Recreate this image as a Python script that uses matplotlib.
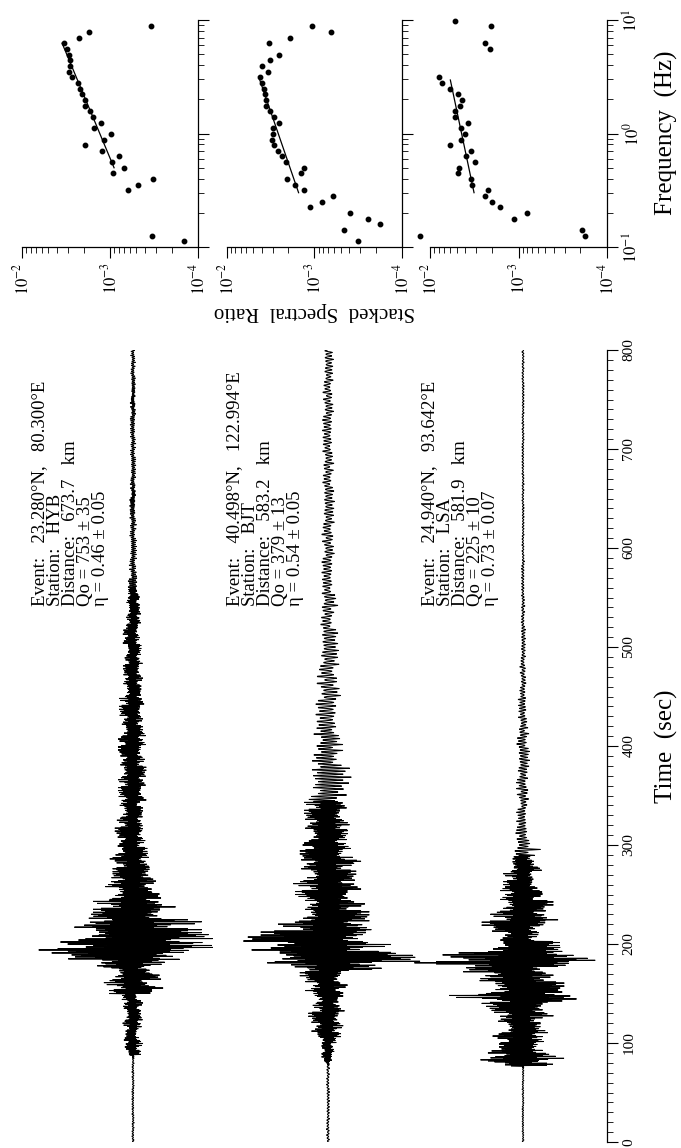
import numpy as np
import matplotlib
matplotlib.use('Agg')
import matplotlib.pyplot as plt
from matplotlib.ticker import LogLocator, NullFormatter, FixedLocator, FixedFormatter, MultipleLocator

plt.rcParams['font.family'] = ['Liberation Serif', 'DejaVu Serif']
plt.rcParams['mathtext.fontset'] = 'stix'

# ---------------- data: spectral ratios ----------------
hyb_freq = [8.80, 7.84, 6.99, 6.24, 5.56, 4.96, 4.42, 3.94, 3.51, 3.13, 2.79, 2.49, 2.22, 1.98, 1.76,
            1.57, 1.40, 1.25, 1.11, 0.993, 0.885, 0.789, 0.704, 0.628, 0.560, 0.499, 0.445, 0.397,
            0.353, 0.315, 0.126, 0.112]
hyb_ratio = [3.38e-4, 1.75e-3, 2.28e-3, 3.32e-3, 3.09e-3, 2.96e-3, 2.86e-3, 2.88e-3, 2.96e-3, 2.71e-3,
             2.32e-3, 2.22e-3, 2.10e-3, 1.93e-3, 1.90e-3, 1.69e-3, 1.58e-3, 1.25e-3, 1.52e-3, 9.75e-4,
             1.16e-3, 1.90e-3, 1.23e-3, 7.83e-4, 9.48e-4, 6.98e-4, 9.25e-4, 3.24e-4, 4.75e-4, 6.24e-4,
             3.32e-4, 1.43e-4]
hyb_fit_freq = [6.24, 0.499]
hyb_fit_ratio = [3.50e-3, 8.99e-4]

bjt_freq = [8.80, 7.84, 6.99, 6.24, 4.96, 4.42, 3.94, 3.51, 3.13, 2.79, 2.49, 2.22, 1.98, 1.76, 1.57,
            1.40, 1.25, 1.11, 0.993, 0.885, 0.789, 0.704, 0.628, 0.560, 0.499, 0.445, 0.397, 0.353,
            0.315, 0.281, 0.251, 0.223, 0.199, 0.178, 0.158, 0.141, 0.112]
bjt_ratio = [1.06e-3, 6.48e-4, 1.89e-3, 3.34e-3, 2.52e-3, 3.20e-3, 3.98e-3, 3.40e-3, 4.24e-3, 4.02e-3,
             3.78e-3, 3.71e-3, 3.55e-3, 3.55e-3, 3.23e-3, 2.93e-3, 2.52e-3, 2.95e-3, 3.01e-3, 3.03e-3,
             2.90e-3, 2.59e-3, 2.33e-3, 2.12e-3, 1.31e-3, 1.44e-3, 2.08e-3, 1.69e-3, 1.32e-3, 6.19e-4,
             8.13e-4, 1.12e-3, 3.96e-4, 2.43e-4, 1.77e-4, 4.64e-4, 3.15e-4]
bjt_fit_freq = [3.17, 0.301]
bjt_fit_ratio = [4.35e-3, 1.52e-3]

lsa_freq = [9.87, 8.80, 6.24, 5.56, 3.13, 2.79, 2.49, 2.22, 1.98, 1.76, 1.57, 1.40, 1.25, 1.11, 0.993,
            0.885, 0.789, 0.704, 0.628, 0.560, 0.499, 0.445, 0.397, 0.353, 0.315, 0.281, 0.251, 0.223,
            0.199, 0.178, 0.141, 0.126, 0.126]
lsa_ratio = [5.26e-3, 2.04e-3, 2.38e-3, 2.11e-3, 7.84e-3, 7.31e-3, 5.94e-3, 4.86e-3, 4.31e-3, 4.62e-3,
             5.26e-3, 5.26e-3, 3.68e-3, 4.46e-3, 4.06e-3, 4.50e-3, 5.98e-3, 3.47e-3, 3.94e-3, 3.12e-3,
             4.66e-3, 4.78e-3, 3.43e-3, 3.38e-3, 2.24e-3, 2.36e-3, 2.00e-3, 1.61e-3, 7.98e-4, 1.13e-3,
             1.92e-4, 1.76e-4, 1.30e-2]
lsa_fit_freq = [2.96, 0.301]
lsa_fit_ratio = [5.89e-3, 3.18e-3]

# ---------------- data: seismogram envelopes (time s, lower / upper peak amplitude) ----------------
hyb_t = [0, 88, 96, 106, 116, 127, 136, 143, 150, 157, 164, 170, 177, 184, 191, 194, 198, 204, 211, 218,
         225, 232, 238, 245, 252, 258, 265, 272, 278, 285, 292, 298, 305, 312, 318, 325, 332, 339, 344,
         362, 379, 393, 414, 431, 449, 466, 484, 504, 518, 536, 553, 570, 600, 650, 700, 750]
hyb_lo = [1.3, 7.4, 9.6, 7.4, 10.4, 9.6, 11.7, 11.7, 23.9, 29.1, 29.1, 22.6, 42.1, 68.2, 81.3, 94.3, 72.6,
          68.2, 61.7, 57.4, 46.5, 40.0, 40.0, 29.1, 22.6, 29.1, 22.6, 20.4, 18.2, 29.1, 18.2, 16.1, 16.1,
          18.2, 15.2, 16.1, 13.9, 13.9, 15.0, 15.0, 13.3, 15.0, 11.7, 14.0, 10.0, 10.0, 8.3, 10.7, 6.7,
          6.7, 5.0, 4.0, 3.5, 3.0, 3.0, 2.5]
hyb_hi = [1.3, 7.8, 10.0, 5.6, 10.0, 7.8, 10.0, 5.6, 31.7, 18.7, 29.5, 16.5, 31.7, 66.5, 92.5, 83.9, 92.5,
          83.9, 68.7, 68.7, 40.4, 44.8, 33.9, 29.5, 18.7, 23.0, 25.2, 27.4, 16.5, 16.5, 14.3, 12.2, 12.2,
          16.5, 10.0, 10.0, 10.0, 7.8, 13.3, 13.3, 11.7, 13.3, 10.0, 11.7, 8.3, 10.0, 8.3, 6.7, 8.3,
          6.7, 6.7, 4.0, 3.5, 3.0, 3.0, 2.5]

bjt_t = [0, 81, 86, 100, 106, 113, 120, 127, 133, 140, 147, 154, 160, 167, 174, 181, 188, 191, 196, 201,
         208, 214, 221, 228, 234, 241, 248, 255, 261, 268, 275, 282, 288, 295, 302, 315, 322, 351, 362,
         369, 379, 396, 414, 466, 501, 518, 536, 553, 650, 750]
bjt_lo = [1.7, 4.3, 6.5, 8.7, 17.4, 15.2, 17.4, 19.6, 15.2, 15.2, 23.9, 19.6, 23.9, 28.2, 36.9, 76.0,
          76.0, 80.4, 67.3, 89.1, 67.3, 50.0, 41.3, 28.2, 23.9, 23.9, 32.6, 32.6, 34.8, 23.9, 28.2, 28.2,
          28.2, 28.2, 23.9, 23.9, 23.9, 25.0, 28.3, 26.7, 16.7, 15.0, 13.3, 11.7, 10.0, 8.3, 8.3, 6.7,
          6.0, 5.5]
bjt_hi = [1.7, 6.5, 6.5, 8.7, 13.0, 15.2, 15.2, 17.4, 15.2, 10.9, 15.2, 19.6, 15.2, 21.7, 63.0, 96.9,
          84.7, 63.0, 63.0, 50.0, 63.0, 45.6, 43.5, 41.3, 36.9, 32.6, 32.6, 34.8, 28.2, 28.2, 26.1, 41.3,
          23.9, 23.9, 19.6, 23.9, 19.6, 18.3, 23.3, 21.7, 16.7, 15.0, 13.3, 11.7, 10.0, 6.7, 10.0, 6.7,
          6.0, 5.5]

lsa_t = [0, 77, 82, 86, 93, 100, 106, 113, 120, 127, 133, 140, 144, 150, 164, 170, 177, 180, 187, 192,
         197, 204, 211, 218, 225, 232, 238, 245, 252, 258, 265, 272, 278, 285, 292, 298, 305, 312, 318,
         325, 339, 344, 362, 379, 414, 449, 484, 520, 550, 588]
lsa_lo = [1.0, 30.0, 50.0, 36.9, 23.9, 28.2, 30.4, 23.9, 26.1, 30.4, 36.9, 41.3, 73.9, 45.6, 50.0, 63.0,
          47.8, 108.6, 80.4, 50.0, 32.6, 23.9, 32.6, 41.3, 32.6, 32.6, 23.9, 23.9, 23.9, 19.6, 19.6,
          15.2, 17.4, 10.9, 10.9, 10.9, 6.5, 8.7, 6.5, 6.5, 4.3, 6.7, 8.3, 6.7, 5.0, 3.3, 2.7, 2.0,
          1.7, 1.2]
lsa_hi = [1.0, 30.0, 45.6, 32.6, 23.9, 21.7, 26.1, 17.4, 21.7, 30.4, 32.6, 41.3, 63.0, 41.3, 30.4, 28.2,
          77.3, 76.0, 67.3, 41.3, 36.9, 15.2, 19.6, 36.9, 28.2, 23.9, 30.4, 19.6, 23.9, 15.2, 10.9,
          19.6, 10.9, 13.0, 17.4, 8.7, 8.7, 6.5, 6.5, 4.3, 4.3, 6.7, 5.0, 6.7, 5.0, 3.3, 2.7, 2.0,
          1.7, 1.2]

stations = ['HYB', 'BJT', 'LSA']
time_ticks = [0, 100, 200, 300, 400, 500, 600, 700, 800]
ratio_ticks = [1e-2, 1e-3, 1e-4]
ratio_labels = [r'$10^{-2}$', r'$10^{-3}$', r'$10^{-4}$']
freq_ticks = [0.1, 1.0, 10.0]
freq_labels = [r'$10^{-1}$', r'$10^{0}$', r'$10^{1}$']
info = [
    ['Event:   23.280°N,   80.300°E', 'Station:   HYB', 'Distance:   673.7   km', 'Qo = 753 ± 35', 'η = 0.46 ± 0.05'],
    ['Event:   40.498°N,   122.994°E', 'Station:   BJT', 'Distance:   583.2   km', 'Qo = 379 ± 13', 'η = 0.54 ± 0.05'],
    ['Event:   24.940°N,   93.642°E', 'Station:   LSA', 'Distance:   581.9   km', 'Qo = 225 ± 10', 'η = 0.73 ± 0.07'],
]

# ---------------- layout ----------------
W, H = 681, 1148
fig = plt.figure(figsize=(W / 100, H / 100), dpi=100)


def add_px_axes(x0, y0, x1, y1):
    return fig.add_axes([x0 / W, 1 - y1 / H, (x1 - x0) / W, (y1 - y0) / H])


# ---------------- seismograms ----------------
ax = add_px_axes(0, 350, 607, 1142)
ax.set_xlim(0, 607)
ax.set_ylim(0, 800)
for s in ['top', 'left', 'bottom']:
    ax.spines[s].set_visible(False)
ax.spines['right'].set_linewidth(0.9)
ax.set_xticks([])
ax.yaxis.tick_right()
ax.yaxis.set_major_locator(FixedLocator(time_ticks))
ax.yaxis.set_minor_locator(MultipleLocator(10))
ax.tick_params(axis='y', which='major', direction='out', length=8, width=0.8, labelsize=11,
               labelrotation=90, pad=3)
ax.tick_params(axis='y', which='minor', direction='out', length=4, width=0.6)
for lab in ax.get_yticklabels():
    lab.set_verticalalignment('center')

offsets = [133, 328, 523]
periods = [  # (start time, carrier period in s) style of each trace
    [(0, 2.5), (85, 1.0), (560, 2.0)],
    [(0, 3.0), (78, 1.0), (345, 3.0), (420, 3.5)],
    [(0, 2.5), (75, 1.0), (290, 3.0)],
]
weights = np.array([1.0, 0.45, 0.8, 0.6, 0.3, 0.95, 0.5, 0.7, 0.35, 0.85, 0.55, 0.4, 0.9, 0.65, 0.3,
                    0.75, 1.0, 0.5, 0.6, 0.35, 0.8, 0.45, 0.7, 0.95, 0.4, 0.55, 0.3, 0.85, 0.6, 0.75,
                    0.5, 0.9, 0.35, 0.65, 0.45, 1.0, 0.55, 0.7, 0.4, 0.8, 0.6])
env = [(hyb_t, hyb_lo, hyb_hi), (bjt_t, bjt_lo, bjt_hi), (lsa_t, lsa_lo, lsa_hi)]
t = np.arange(0, 800.01, 0.5)
for k in range(3):
    tt, lo, hi = [np.asarray(v, float) for v in env[k]]
    idx = np.clip(np.searchsorted(tt, t, side='right') - 1, 0, len(tt) - 1)
    per = np.ones_like(t)
    for (ts, p) in periods[k]:
        per[t >= ts] = p
    phase = np.cumsum(2 * np.pi * 0.5 / per)
    c = np.cos(phase)
    half = np.floor(phase / np.pi + 0.5).astype(int)
    w = weights[(half + 7 * k) % len(weights)]
    amp = np.where(c >= 0, c * hi[idx], c * lo[idx]) * w
    ax.plot(offsets[k] + amp, t, color='k', lw=0.75, solid_joinstyle='miter')

    # anchor = baseline of the last line; block spans five lines of 16 px pitch
    fig.text((offsets[k] - 26) / W, 1 - 606 / H, '\n'.join(info[k]), rotation=90,
             rotation_mode='anchor', ha='left', va='baseline', multialignment='left',
             fontsize=13.5, linespacing=0.86)

fig.text(666 / W, 1 - 746 / H, 'Time  (sec)', rotation=90, ha='center', va='center', fontsize=18)

# ---------------- spectral ratio panels ----------------
panel_x = [(22, 198), (227, 402), (430, 607)]
spec = [(hyb_ratio, hyb_freq, hyb_fit_ratio, hyb_fit_freq),
        (bjt_ratio, bjt_freq, bjt_fit_ratio, bjt_fit_freq),
        (lsa_ratio, lsa_freq, lsa_fit_ratio, lsa_fit_freq)]
for i, (x0, x1) in enumerate(panel_x):
    a = add_px_axes(x0, 20, x1, 247)
    a.set_xscale('log')
    a.set_yscale('log')
    a.set_xlim(1e-2, 1e-4)
    a.set_ylim(0.1, 10)
    a.spines['top'].set_visible(False)
    a.spines['left'].set_visible(False)
    a.spines['right'].set_linewidth(0.9)
    a.spines['bottom'].set_linewidth(0.9)
    a.yaxis.tick_right()
    a.xaxis.tick_bottom()
    a.xaxis.set_major_locator(FixedLocator(ratio_ticks))
    a.xaxis.set_major_formatter(FixedFormatter(ratio_labels))
    a.xaxis.set_minor_locator(LogLocator(base=10, subs=range(2, 10)))
    a.xaxis.set_minor_formatter(NullFormatter())
    a.yaxis.set_major_locator(FixedLocator(freq_ticks))
    a.yaxis.set_minor_locator(LogLocator(base=10, subs=range(2, 10)))
    a.yaxis.set_minor_formatter(NullFormatter())
    if i == 2:
        a.yaxis.set_major_formatter(FixedFormatter(freq_labels))
    else:
        a.yaxis.set_major_formatter(NullFormatter())
    a.tick_params(which='major', direction='out', length=8, width=0.8, labelsize=12, pad=3)
    a.tick_params(which='minor', direction='out', length=4, width=0.6)
    a.tick_params(axis='x', labelrotation=90)
    a.tick_params(axis='y', labelrotation=90)
    for lab in a.get_yticklabels():
        lab.set_verticalalignment('center')
    r, f, fr, ff = spec[i]
    a.plot(r, f, 'o', ms=3.2, color='k', clip_on=False)
    a.plot(fr, ff, '-', color='k', lw=0.9)

fig.text(314 / W, 1 - 312 / H, 'Stacked  Spectral  Ratio', rotation=180, ha='center', va='center',
         fontsize=15)
fig.text(666 / W, 1 - 133 / H, 'Frequency  (Hz)', rotation=90, ha='center', va='center', fontsize=18)

fig.savefig('out.png', dpi=100)
